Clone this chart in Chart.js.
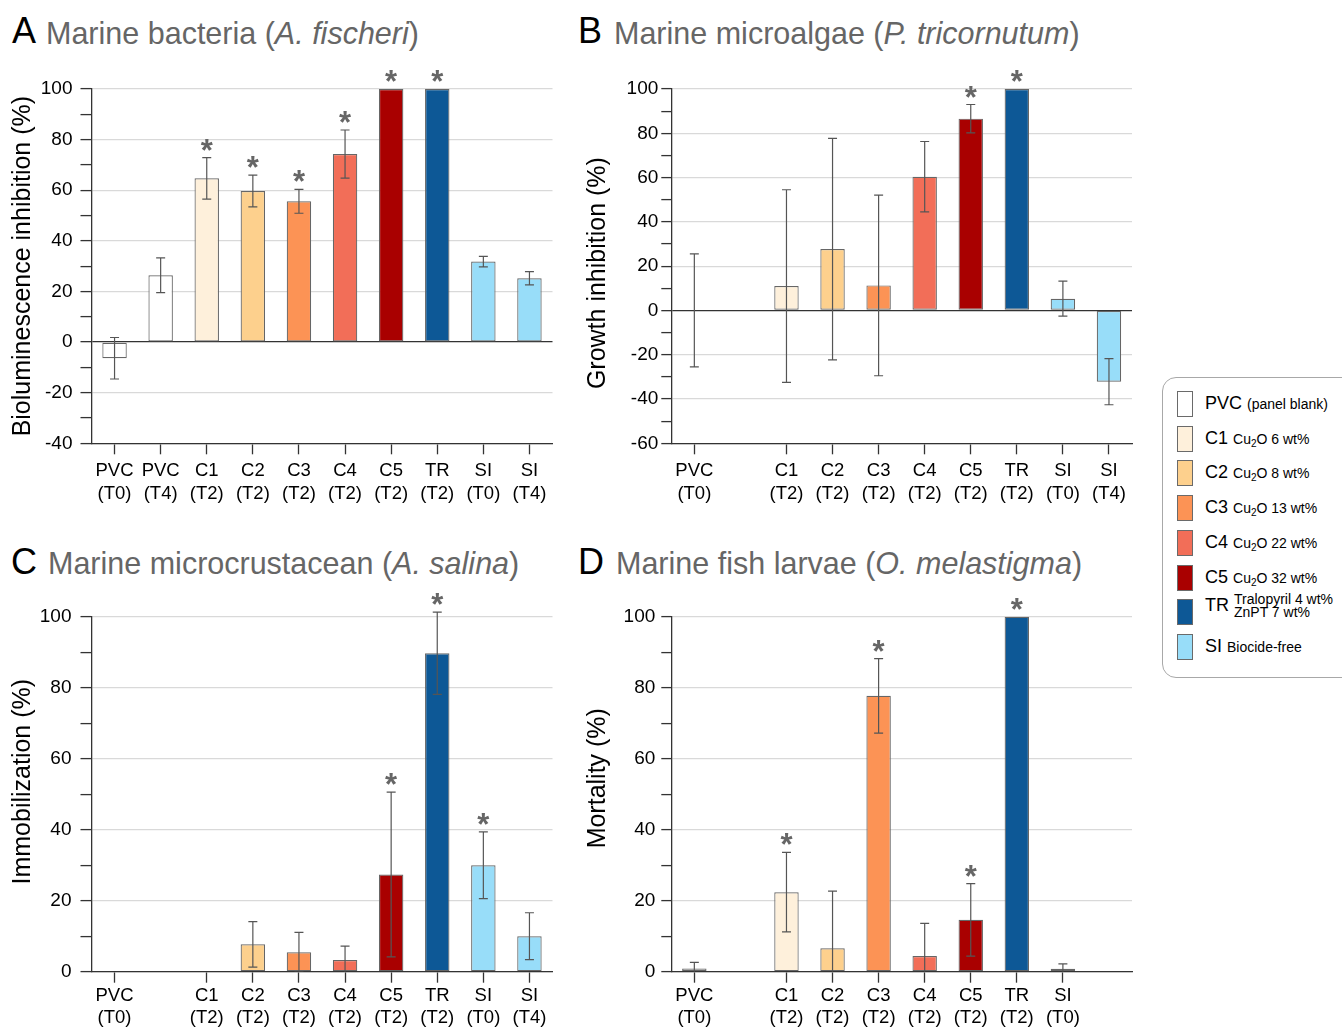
<!DOCTYPE html>
<html><head><meta charset="utf-8">
<script src="https://cdn.jsdelivr.net/npm/chart.js@4/dist/chart.umd.min.js"></script>
<style>
html,body{margin:0;padding:0;background:#fff;width:1342px;height:1029px;overflow:hidden;font-family:"Liberation Sans",Arial,Helvetica,sans-serif;}
.pan{position:absolute;}
.letter{position:absolute;font-size:36px;line-height:1;color:#000;white-space:nowrap;}
.ttl{position:absolute;font-size:30.5px;line-height:1;color:#666;white-space:nowrap;}
.legend{position:absolute;left:1162px;top:377px;width:230px;height:301px;border:1.5px solid #a8a8a8;border-radius:14px;box-sizing:border-box;}
.row{position:absolute;left:1177px;height:25px;width:170px;white-space:nowrap;}
.sw{position:absolute;left:0;top:0;width:16px;height:26px;border:1.3px solid #6a6a6a;box-sizing:border-box;}
.lt{position:absolute;left:28px;top:-1px;line-height:26px;font-size:18px;color:#000;}
.sm{font-size:14px;}
.sm sub{font-size:10px;vertical-align:-3px;line-height:0;}
.two{display:inline-block;vertical-align:middle;font-size:14px;line-height:13.5px;}
</style></head>
<body>
<div class="letter" style="left:12px;top:13px">A</div>
<div class="ttl" style="left:46px;top:17.7px">Marine bacteria (<i>A. fischeri</i>)</div>
<div class="letter" style="left:578px;top:13px">B</div>
<div class="ttl" style="left:614px;top:17.7px">Marine microalgae (<i>P. tricornutum</i>)</div>
<div class="letter" style="left:11px;top:543.5px">C</div>
<div class="ttl" style="left:48px;top:548.2px">Marine microcrustacean (<i>A. salina</i>)</div>
<div class="letter" style="left:578px;top:543.5px">D</div>
<div class="ttl" style="left:616px;top:548.2px">Marine fish larvae (<i>O. melastigma</i>)</div>

<canvas id="cA" class="pan" width="570" height="470" style="left:0px;top:55px"></canvas>
<canvas id="cB" class="pan" width="570" height="470" style="left:575px;top:55px"></canvas>
<canvas id="cC" class="pan" width="570" height="454" style="left:0px;top:575px"></canvas>
<canvas id="cD" class="pan" width="570" height="454" style="left:575px;top:575px"></canvas>

<div class="legend"></div>
<div id="legendRows"></div>

<script>
// ---------- data ----------
const slotLabels = [['PVC','(T0)'],['PVC','(T4)'],['C1','(T2)'],['C2','(T2)'],['C3','(T2)'],['C4','(T2)'],['C5','(T2)'],['TR','(T2)'],['SI','(T0)'],['SI','(T4)']];
const slotCoating = ['PVC','PVC','C1','C2','C3','C4','C5','TR','SI','SI'];

// A: bioluminescence inhibition (%)
const bacteriaMean = [-6.4, 26.4, 64.7, 59.7, 55.6, 74.3, 100, 100, 31.8, 25.2];
const bacteriaErr  = [8.2, 6.9, 8.2, 6.3, 4.7, 9.5, 0, 0, 2.1, 2.6];
const bacteriaSig  = [0, 0, 1, 1, 1, 1, 1, 1, 0, 0];

// B: growth inhibition (%)
const algaeMean = [0, null, 11.0, 27.7, 11.3, 60.4, 86.6, 100, 5.3, -32.2];
const algaeErr  = [25.5, null, 43.5, 50.0, 40.8, 15.9, 6.4, 0, 7.9, 10.4];
const algaeSig  = [0, 0, 0, 0, 0, 0, 1, 1, 0, 0];

// C: immobilization (%)
const crustMean = [0, null, 0, 7.7, 5.5, 3.3, 27.4, 89.7, 30.0, 10.0];
const crustErr  = [0, null, 0, 6.4, 5.6, 3.9, 23.2, 11.6, 9.4, 6.6];
const crustSig  = [0, 0, 0, 0, 0, 0, 1, 1, 1, 0];

// D: mortality (%)
const fishMean = [0.9, null, 22.4, 6.6, 77.7, 4.4, 14.6, 100, 0.8, null];
const fishErr  = [1.7, null, 11.2, 16.1, 10.5, 9.2, 10.2, 0, 1.4, null];
const fishSig  = [0, 0, 1, 0, 1, 0, 1, 1, 0, 0];

const yTitles = ['Bioluminescence inhibition (%)', 'Growth inhibition (%)', 'Immobilization (%)', 'Mortality (%)'];

const legendCodes = ['PVC','C1','C2','C3','C4','C5','TR','SI'];
const legendNotes = ['(panel blank)','Cu<sub>2</sub>O 6 wt%','Cu<sub>2</sub>O 8 wt%','Cu<sub>2</sub>O 13 wt%','Cu<sub>2</sub>O 22 wt%','Cu<sub>2</sub>O 32 wt%','Tralopyril 4 wt%<br>ZnPT 7 wt%','Biocide-free'];

// ---------- styles ----------
const colorOf = {PVC:'#ffffff', C1:'#fef0db', C2:'#fdd08d', C3:'#fc9355', C4:'#f26e58', C5:'#a90000', TR:'#0d5896', SI:'#98ddf9'};

Chart.defaults.font.family = '"Liberation Sans", Arial, Helvetica, sans-serif';
Chart.defaults.color = '#000';

const errorBarPlugin = {
  id: 'errorBars',
  afterDatasetsDraw(chart) {
    const {ctx, chartArea, scales} = chart;
    const y = scales.y;
    const ds = chart.data.datasets[0];
    const meta = chart.getDatasetMeta(0);
    ctx.save();
    ctx.beginPath();
    ctx.rect(0, 0, chart.width, chartArea.bottom);
    ctx.clip();
    ctx.strokeStyle = '#555';
    ctx.lineWidth = 1.2;
    ds.data.forEach((m, i) => {
      const e = ds.errors[i];
      if (m == null || !e) return;
      const cx = meta.data[i].x;
      const yt = y.getPixelForValue(m + e), yb = y.getPixelForValue(m - e);
      ctx.beginPath();
      ctx.moveTo(cx, yt); ctx.lineTo(cx, yb);
      ctx.moveTo(cx - 4.5, yt); ctx.lineTo(cx + 4.5, yt);
      ctx.moveTo(cx - 4.5, yb); ctx.lineTo(cx + 4.5, yb);
      ctx.stroke();
    });
    ctx.restore();
    ctx.save();
    ctx.fillStyle = '#666';
    ctx.font = 'bold 31px "Liberation Sans", Arial, sans-serif';
    ctx.textAlign = 'center';
    ctx.textBaseline = 'alphabetic';
    ds.data.forEach((m, i) => {
      if (m == null || !ds.sig[i]) return;
      const top = m + (ds.errors[i] || 0);
      const cx = meta.data[i].x;
      ctx.fillText('*', cx, y.getPixelForValue(top) + 3);
    });
    ctx.restore();
  }
};

function makePanel(id, mean, err, sig, yMin, yTitle, g) {
  const labels = slotLabels.map((l, i) => mean[i] == null ? '' : l);
  return new Chart(document.getElementById(id), {
    type: 'bar',
    data: {
      labels,
      datasets: [{
        data: mean, errors: err, sig: sig,
        backgroundColor: slotCoating.map(c => colorOf[c]),
        borderColor: '#666', borderWidth: 1.2, borderSkipped: false,
        barPercentage: 0.53, categoryPercentage: 1
      }]
    },
    options: {
      responsive: false, animation: false, devicePixelRatio: 1,
      layout: {padding: {left: 4, top: g.top, right: g.right, bottom: g.bottom}},
      plugins: {legend: {display: false}, tooltip: {enabled: false}},
      scales: {
        x: {
          offset: true,
          grid: {offset: false, drawOnChartArea: false, drawTicks: true, tickLength: 11,
                 tickColor: c => labels[c.index] === '' ? 'rgba(0,0,0,0)' : '#333', tickWidth: 1.3},
          border: {color: '#333', width: 1.3},
          ticks: {autoSkip: false, maxRotation: 0, minRotation: 0, font: {size: 18.5, lineHeight: 1.2}, color: '#000', padding: g.xp},
          afterFit: s => { s.height = g.xh; }
        },
        y: {
          min: yMin, max: 100,
          ticks: {stepSize: 10, autoSkip: false, font: {size: 19}, color: '#000', padding: g.tp,
                  callback: v => (Math.round(v) % 20 === 0 ? v : '')},
          grid: {
            color: c => {
              const v = Math.round(c.tick.value);
              if (v === 0 && yMin < 0) return '#333';
              if (v % 20 !== 0) return 'rgba(0,0,0,0)';
              return '#d9d9d9';
            },
            lineWidth: c => (Math.round(c.tick.value) === 0 && yMin < 0 ? 1.3 : 1.2),
            tickLength: g.tl, tickColor: '#333', tickWidth: 1.3
          },
          border: {color: '#333', width: 1.3},
          title: {display: true, text: g.lead + yTitle + g.trail, font: {size: 25}, color: '#000', padding: {top: 4, bottom: 0}},
          afterFit: s => { s.width = g.yw; }
        }
      }
    },
    plugins: [errorBarPlugin]
  });
}

makePanel('cA', bacteriaMean, bacteriaErr, bacteriaSig, -40, yTitles[0],
  {top: 34, right: 17.5, bottom: 1.7, xh: 80, yw: 87.5, tl: 11, tp: 8, xp: 6, lead: '', trail: ''});
makePanel('cB', algaeMean, algaeErr, algaeSig, -60, yTitles[1],
  {top: 34, right: 13, bottom: 1.7, xh: 80, yw: 92.3, tl: 10, tp: 3, xp: 6, lead: '', trail: '  '});
makePanel('cC', crustMean, crustErr, crustSig, 0, yTitles[2],
  {top: 41.7, right: 17.5, bottom: 0.3, xh: 57, yw: 87.5, tl: 11, tp: 9, xp: 2, lead: '\u2003', trail: ''});
makePanel('cD', fishMean, fishErr, fishSig, 0, yTitles[3],
  {top: 41.7, right: 13, bottom: 0.3, xh: 57, yw: 92.3, tl: 10, tp: 6, xp: 2, lead: '\u2003 ', trail: ''});

// legend
const rows = document.getElementById('legendRows');
legendCodes.forEach((code, i) => {
  const r = document.createElement('div');
  r.className = 'row';
  r.style.top = (391 + i * 34.7) + 'px';
  const isTwo = code === 'TR';
  const note = isTwo ? '<span class="two">' + legendNotes[i] + '</span>' : '<span class="sm">' + legendNotes[i] + '</span>';
  r.innerHTML = '<div class="sw" style="background:' + colorOf[code] + '"></div>' +
                '<div class="lt"' + (isTwo ? ' style="top:-7px"' : '') + '>' + code + ' ' + note + '</div>';
  rows.appendChild(r);
});
</script>
</body></html>
